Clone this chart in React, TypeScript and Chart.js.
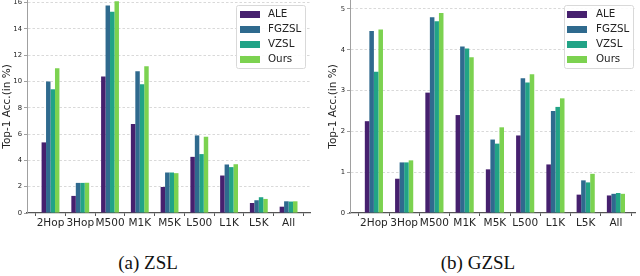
import React, { useEffect, useRef } from 'react';
import { Chart, registerables } from 'chart.js';

Chart.register(...registerables);

const categories = ['2Hop', '3Hop', 'M500', 'M1K', 'M5K', 'L500', 'L1K', 'L5K', 'All'];
const seriesNames = ['ALE', 'FGZSL', 'VZSL', 'Ours'];
const seriesColors = ['#46206e', '#2f6a8e', '#21a386', '#7cd250'];

const zslALE = [5.37, 1.3, 10.38, 6.77, 1.98, 4.27, 2.85, 0.76, 0.48];
const zslFGZSL = [10.0, 2.29, 15.78, 10.79, 3.08, 5.9, 3.69, 0.97, 0.89];
const zslVZSL = [9.41, 2.29, 15.3, 9.8, 3.08, 4.48, 3.49, 1.2, 0.87];
const zslOurs = [11.0, 2.3, 16.1, 11.17, 3.03, 5.8, 3.71, 1.07, 0.89];

const gzslALE = [2.25, 0.84, 2.95, 2.4, 1.07, 1.9, 1.19, 0.45, 0.43];
const gzslFGZSL = [4.46, 1.24, 4.8, 4.08, 1.8, 3.3, 2.5, 0.8, 0.47];
const gzslVZSL = [3.46, 1.24, 4.7, 4.03, 1.7, 3.2, 2.6, 0.75, 0.49];
const gzslOurs = [4.5, 1.29, 4.9, 3.82, 2.1, 3.4, 2.81, 0.96, 0.47];

const zslTicks = [0, 2, 4, 6, 8, 10, 12, 14, 16];
const gzslTicks = [0, 1, 2, 3, 4, 5];

const captions = ['(a) ZSL', '(b) GZSL'];
const yTitle = 'Top-1 Acc.(in %)';

const insideLegend = {
  id: 'insideLegend',
  afterDatasetsDraw(chart: any, _args: any, opts: any) {
    const { ctx, chartArea } = chart;
    const w = 69;
    const h = 63;
    const x = Math.round(chartArea.right - opts.right - w);
    const y = Math.round(chartArea.top + opts.top);
    ctx.save();
    ctx.fillStyle = 'rgba(255,255,255,0.9)';
    ctx.strokeStyle = '#d9d9d9';
    ctx.lineWidth = 1;
    ctx.beginPath();
    if ((ctx as any).roundRect) (ctx as any).roundRect(x + 0.5, y + 0.5, w, h, 2);
    else ctx.rect(x + 0.5, y + 0.5, w, h);
    ctx.fill();
    ctx.stroke();
    ctx.font = '10.3px "DejaVu Sans"';
    ctx.textBaseline = 'middle';
    ctx.textAlign = 'left';
    chart.data.datasets.forEach((ds: any, i: number) => {
      const cy = y + 9.5 + i * 15;
      ctx.fillStyle = ds.backgroundColor;
      ctx.fillRect(x + opts.patchX, cy - 3.5, 20, 7);
      ctx.fillStyle = '#222';
      ctx.fillText(ds.label, x + 32, cy);
    });
    ctx.restore();
  },
};

type PanelProps = {
  series: number[][];
  ticks: number[];
  yMax: number;
  xMin: number;
  xMax: number;
  yAxisWidth: number;
  rightPad: number;
  titleOffset: number;
  legendRight: number;
  patchX: number;
};

function BarPanel(p: PanelProps) {
  const ref = useRef<HTMLCanvasElement | null>(null);
  useEffect(() => {
    if (!ref.current) return;
    const datasets = p.series.map((vals, si) => ({
      label: seriesNames[si],
      data: vals.map((v, i) => ({ x: i, y: v })),
      backgroundColor: seriesColors[si],
      borderWidth: 0,
      categoryPercentage: 0.6,
      barPercentage: 1.0,
    }));
    const chart = new Chart(ref.current, {
      type: 'bar',
      data: { datasets },
      plugins: [insideLegend],
      options: {
        animation: false,
        responsive: false,
        devicePixelRatio: 1,
        layout: { padding: { left: 0, right: p.rightPad, top: 0, bottom: 0 } },
        plugins: {
          legend: { display: false },
          tooltip: { enabled: false },
          insideLegend: { right: p.legendRight, top: 5, patchX: p.patchX },
        } as any,
        scales: {
          x: {
            type: 'linear',
            min: p.xMin,
            max: p.xMax,
            offset: false,
            afterBuildTicks: (scale: any) => {
              scale.ticks = categories.map((_, i) => ({ value: i }));
            },
            afterFit: (scale: any) => {
              scale.height = 27;
              scale.paddingLeft = 0;
              scale.paddingRight = 0;
            },
            ticks: {
              autoSkip: false,
              maxRotation: 0,
              padding: 1,
              color: '#262626',
              font: { family: 'DejaVu Sans', size: 10.5 },
              callback: (v: any) => categories[Math.round(Number(v))] ?? '',
            },
            grid: { drawOnChartArea: false, tickLength: 3, tickColor: '#555', tickWidth: 1 },
            border: { display: true, color: '#555', width: 1.3 },
          },
          y: {
            type: 'linear',
            min: 0,
            max: p.yMax,
            afterBuildTicks: (scale: any) => {
              scale.ticks = p.ticks.map((v) => ({ value: v }));
            },
            afterFit: (scale: any) => {
              scale.width = p.yAxisWidth;
              scale.paddingTop = 0;
              scale.paddingBottom = 0;
            },
            ticks: {
              autoSkip: false,
              padding: 2,
              color: '#1e1e1e',
              font: { family: 'DejaVu Sans', size: 6.8 },
            },
            grid: {
              color: (ctx: any) => (ctx.tick && ctx.tick.value === 0 ? 'rgba(0,0,0,0)' : '#cfcfcf'),
              lineWidth: 0.8,
              tickLength: 3,
              tickColor: '#888',
            } as any,
            border: { display: true, color: '#a0a0a0', width: 1, dash: [2.5, 2] } as any,
            title: {
              display: true,
              text: yTitle,
              color: '#222',
              font: { family: 'DejaVu Sans', size: 10.5 },
              padding: { top: p.titleOffset, bottom: 0 },
            },
          },
        },
      } as any,
    });
    return () => chart.destroy();
  }, []);
  return <canvas ref={ref} width={320} height={240} style={{ display: 'block' }} />;
}

export default function App() {
  return (
    <div
      style={{
        position: 'fixed',
        left: 0,
        top: 0,
        width: 640,
        height: 276,
        background: '#fff',
        overflow: 'hidden',
      }}
    >
      <div style={{ position: 'absolute', left: 0, top: 0 }}>
        <BarPanel
          series={[zslALE, zslFGZSL, zslVZSL, zslOurs]}
          ticks={zslTicks}
          yMax={16.2}
          xMin={-0.79}
          xMax={8.72}
          yAxisWidth={27}
          rightPad={10}
          titleOffset={1}
          legendRight={5}
          patchX={4}
        />
      </div>
      <div style={{ position: 'absolute', left: 320, top: 0 }}>
        <BarPanel
          series={[gzslALE, gzslFGZSL, gzslVZSL, gzslOurs]}
          ticks={gzslTicks}
          yMax={5.22}
          xMin={-0.79}
          xMax={8.63}
          yAxisWidth={30}
          rightPad={5}
          titleOffset={7}
          legendRight={2}
          patchX={3}
        />
      </div>
      {captions.map((c, i) => (
        <div
          key={c}
          style={{
            position: 'absolute',
            left: i === 0 ? 148 - 80 : 478 - 80,
            width: 160,
            top: 251,
            textAlign: 'center',
            fontFamily: '"Liberation Serif", "Times New Roman", serif',
            fontSize: 19,
            lineHeight: '24px',
            color: '#111',
          }}
        >
          {c}
        </div>
      ))}
    </div>
  );
}
